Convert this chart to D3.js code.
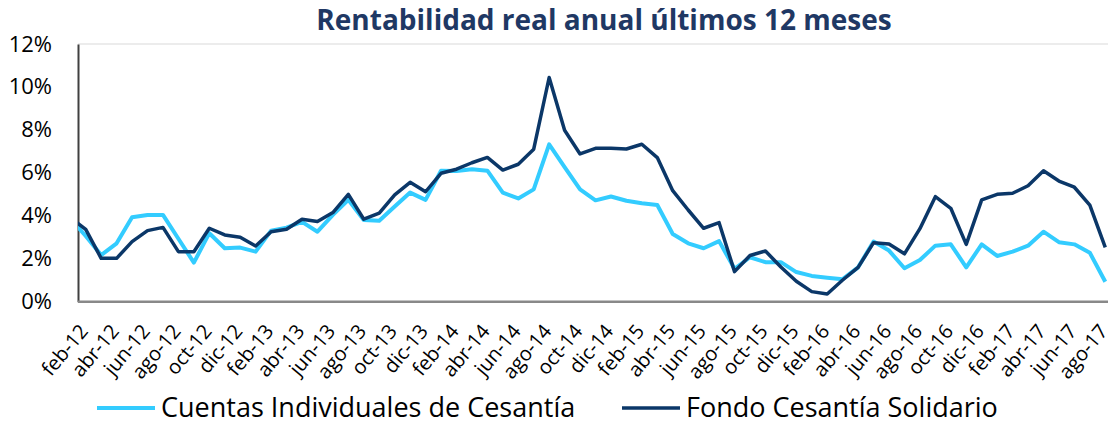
<!DOCTYPE html>
<html lang="es">
<head>
    <meta charset="utf-8">
    <title>Rentabilidad real anual</title>
    <script src="https://d3js.org/d3.v7.min.js"></script>
    <style>
        body {
            margin: 0;
            background: white;
            font-family: "Open Sans", Lato, Arial, sans-serif;
        }
        .title {
            font-weight: bold;
            fill: #1f3864;
        }
        .yAxis text {
            font-size: 22px;
            fill: #000;
            font-family: "Open Sans", sans-serif;
        }
        .xAxis text {
            font-size: 20px;
            fill: #000;
            font-family: "Open Sans", sans-serif;
        }
        .legend text {
            font-size: 27px;
            fill: #000;
        }
    </style>
</head>
<body>
<script>

    var w = 1108;
    var h = 423;

    //months from ene-12 (only partly visible, clipped at the axis) to ago-17
    var months = ["ene-12",
        "feb-12","mar-12","abr-12","may-12","jun-12","jul-12","ago-12","sep-12","oct-12","nov-12","dic-12",
        "ene-13","feb-13","mar-13","abr-13","may-13","jun-13","jul-13","ago-13","sep-13","oct-13","nov-13","dic-13",
        "ene-14","feb-14","mar-14","abr-14","may-14","jun-14","jul-14","ago-14","sep-14","oct-14","nov-14","dic-14",
        "ene-15","feb-15","mar-15","abr-15","may-15","jun-15","jul-15","ago-15","sep-15","oct-15","nov-15","dic-15",
        "ene-16","feb-16","mar-16","abr-16","may-16","jun-16","jul-16","ago-16","sep-16","oct-16","nov-16","dic-16",
        "ene-17","feb-17","mar-17","abr-17","may-17","jun-17","jul-17","ago-17"];

    // Cuentas Individuales de Cesantía (%)
    var cuentas = [3.87,
        3.06, 2.17, 2.72, 3.93, 4.04, 4.04, 2.93, 1.82, 3.19, 2.49, 2.52,
        2.33, 3.31, 3.45, 3.72, 3.26, 4.04, 4.74, 3.80, 3.77, 4.43, 5.08, 4.74,
        6.10, 6.09, 6.17, 6.10, 5.08, 4.81, 5.23, 7.33, 6.27, 5.23, 4.72, 4.90,
        4.70, 4.58, 4.50, 3.15, 2.72, 2.49, 2.82, 1.53, 2.07, 1.84, 1.84, 1.38,
        1.20, 1.12, 1.05, 1.60, 2.80, 2.38, 1.56, 1.94, 2.61, 2.67, 1.60, 2.67,
        2.13, 2.33, 2.61, 3.26, 2.77, 2.67, 2.28, 0.93];

    // Fondo Cesantía Solidario (%)
    var fondo = [3.92,
        3.37, 2.02, 2.02, 2.80, 3.31, 3.46, 2.33, 2.33, 3.42, 3.11, 3.00,
        2.59, 3.26, 3.37, 3.84, 3.73, 4.15, 5.00, 3.84, 4.12, 4.97, 5.56, 5.12,
        5.98, 6.17, 6.47, 6.72, 6.13, 6.40, 7.10, 10.44, 7.98, 6.88, 7.14, 7.14,
        7.11, 7.33, 6.71, 5.17, 4.27, 3.42, 3.68, 1.40, 2.15, 2.36, 1.62, 0.95,
        0.47, 0.36, 1.01, 1.60, 2.75, 2.69, 2.23, 3.40, 4.89, 4.35, 2.67, 4.74,
        5.00, 5.05, 5.40, 6.10, 5.62, 5.33, 4.50, 2.53];

    var yTicks = [0, 2, 4, 6, 8, 10, 12];

    var series = [
        {name: "Cuentas Individuales de Cesantía", values: cuentas, color: "#33ccff", width: 4},
        {name: "Fondo Cesantía Solidario", values: fondo, color: "#0b3768", width: 3.5}
    ];

    //plot area edges (right edge runs a bit past the picture)
    var pLeft = 78, pRight = 1113, pTop = 44, pBottom = 301.7;

    //categories sit between tick marks, so index i is centred in its slot
    var xScale = d3.scaleLinear()
        .domain([0.5, months.length - 0.5])
        .range([pLeft, pRight]);

    var yScale = d3.scaleLinear()
        .domain([0, 12])
        .range([pBottom, pTop]);

    var svg = d3.select("body")
        .append("svg")
        .attr("width", w)
        .attr("height", h);

    svg.append("defs").append("clipPath")
        .attr("id", "plotClip")
        .append("rect")
        .attr("x", pLeft)
        .attr("y", 0)
        .attr("width", w - pLeft)
        .attr("height", h);

    //title
    svg.append("text")
        .attr("class", "title")
        .attr("x", 604)
        .attr("y", 30)
        .attr("text-anchor", "middle")
        .style("font-size", "28px")
        .text("Rentabilidad real anual últimos 12 meses");

    //top gridline
    svg.append("line")
        .attr("x1", pLeft)
        .attr("x2", w)
        .attr("y1", yScale(12))
        .attr("y2", yScale(12))
        .attr("stroke", "#ececec")
        .attr("stroke-width", 2);

    //y axis
    var yAxis = d3.axisLeft(yScale)
        .tickValues(yTicks)
        .tickSize(0)
        .tickPadding(26)
        .tickFormat(function(d){ return d + "%"; });

    var gy = svg.append("g")
        .attr("class", "yAxis")
        .attr("transform", "translate(" + pLeft + ",0)")
        .call(yAxis);
    gy.select(".domain").attr("stroke", "#404040").attr("stroke-width", 2);

    //x axis, label every second month starting feb-12
    var labelIdx = d3.range(1, months.length, 2);
    var xAxis = d3.axisBottom(xScale)
        .tickValues(labelIdx)
        .tickSize(0)
        .tickFormat(function(d){ return months[d]; });

    var gx = svg.append("g")
        .attr("class", "xAxis")
        .attr("transform", "translate(0," + pBottom + ")")
        .call(xAxis);
    gx.select(".domain")
        .attr("d", "M" + pLeft + ",0H" + w)
        .attr("stroke", "#898989")
        .attr("stroke-width", 2.5);
    gx.selectAll(".tick text")
        .attr("text-anchor", "end")
        .attr("dy", "0em")
        .attr("transform", "translate(3,30) rotate(-50)")
        .attr("y", 0)
        .attr("x", 0);

    //lines
    var line = d3.line()
        .x(function(d, i){ return xScale(i); })
        .y(function(d){ return yScale(d); });

    svg.append("g")
        .attr("clip-path", "url(#plotClip)")
        .selectAll("path")
        .data(series)
        .enter()
        .append("path")
        .attr("d", function(d){ return line(d.values); })
        .attr("fill", "none")
        .attr("stroke", function(d){ return d.color; })
        .attr("stroke-width", function(d){ return d.width; })
        .attr("stroke-linejoin", "round");

    //legend
    var legendX = [97, 622];
    var legend = svg.append("g")
        .attr("class", "legend")
        .selectAll("g")
        .data(series)
        .enter()
        .append("g")
        .attr("transform", function(d, i){ return "translate(" + legendX[i] + ",408)"; });

    legend.append("line")
        .attr("x1", 0)
        .attr("x2", 58)
        .attr("stroke", function(d){ return d.color; })
        .attr("stroke-width", function(d){ return d.width; });

    legend.append("text")
        .attr("x", 64)
        .attr("dy", "0.35em")
        .text(function(d){ return d.name; });

</script>
</body>
</html>
